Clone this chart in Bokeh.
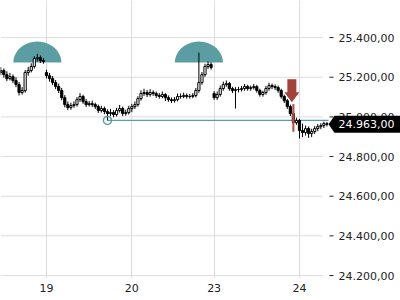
import numpy as np
from bokeh.plotting import figure
from bokeh.models import (Range1d, FixedTicker, LinearAxis, CustomJSTickFormatter,
                          ColumnDataSource)
from bokeh.core.properties import value
from bokeh.embed import file_html
from bokeh.resources import INLINE

# ---------------- data ----------------
opens = [25224, 25234, 25213, 25193, 25203, 25183, 25163, 25123, 25133, 25224,
         25234, 25254, 25294, 25299, 25284,
         25224, 25208, 25193, 25173, 25153, 25133, 25097, 25062, 25047, 25057,
         25062, 25087, 25103, 25077, 25062, 25067, 25062, 25052, 25032, 25042,
         25027, 25017, 25022, 25012, 25032, 25042, 25017, 25022,
         25042, 25052, 25062, 25092, 25118, 25123, 25113, 25123, 25118, 25108,
         25103, 25113, 25097, 25087, 25082, 25087, 25103, 25103, 25108, 25103,
         25103, 25108, 25133, 25173, 25213, 25254, 25264,
         25118, 25097, 25113, 25143, 25163, 25168, 25143, 25133, 25138, 25138,
         25143, 25153, 25143, 25148, 25153, 25133, 25113, 25123, 25143, 25158,
         25153, 25148, 25133, 25103, 25082, 25052, 25017, 24971,
         24982, 24931, 24921, 24941, 24916, 24926, 24941, 24951, 24956, 24966]
highs = [25252, 25244, 25230, 25222, 25214, 25200, 25176, 25150, 25236, 25252,
         25270, 25306, 25318, 25310, 25296,
         25238, 25222, 25206, 25186, 25168, 25146, 25110, 25078, 25072, 25078,
         25100, 25120, 25112, 25090, 25080, 25082, 25072, 25062, 25056, 25052,
         25038, 25040, 25034, 25046, 25060, 25052, 25036, 25056,
         25066, 25078, 25104, 25134, 25142, 25136, 25140, 25134, 25128, 25120,
         25128, 25120, 25108, 25098, 25100, 25118, 25118, 25122, 25118, 25116,
         25120, 25146, 25324, 25226, 25268, 25280, 25276,
         25130, 25128, 25158, 25178, 25184, 25176, 25152, 25150, 25152, 25156,
         25166, 25162, 25158, 25166, 25162, 25142, 25132, 25156, 25172, 25168,
         25164, 25158, 25142, 25112, 25090, 25062, 25064, 24996,
         24990, 24966, 24956, 24952, 24940, 24954, 24964, 24968, 24976, 24974]
lows = [25210, 25198, 25180, 25184, 25170, 25150, 25108, 25112, 25122, 25208,
        25224, 25244, 25280, 25272, 25268,
        25194, 25178, 25160, 25140, 25120, 25084, 25048, 25034, 25036, 25046,
        25052, 25076, 25066, 25050, 25052, 25050, 25040, 25020, 25022, 25014,
        24982, 25004, 24998, 25002, 25022, 25004, 25006, 25012,
        25024, 25040, 25052, 25082, 25106, 25100, 25102, 25106, 25096, 25092,
        25094, 25080, 25076, 25070, 25072, 25078, 25092, 25094, 25092, 25092,
        25094, 25098, 25122, 25162, 25202, 25242, 25238,
        25086, 25086, 25102, 25132, 25152, 25132, 25120, 25042, 25124, 25128,
        25132, 25132, 25132, 25138, 25122, 25102, 25102, 25112, 25132, 25140,
        25136, 25122, 25092, 25070, 25040, 25004, 24926, 24960,
        24891, 24898, 24906, 24894, 24898, 24914, 24928, 24938, 24944, 24952]
closes = [25234, 25213, 25193, 25203, 25183, 25163, 25123, 25133, 25224, 25234,
          25254, 25294, 25299, 25284, 25279,
          25208, 25193, 25173, 25153, 25133, 25097, 25062, 25047, 25057, 25062,
          25087, 25103, 25077, 25062, 25067, 25062, 25052, 25032, 25042, 25027,
          25017, 25022, 25012, 25032, 25042, 25017, 25022, 25042,
          25052, 25062, 25092, 25118, 25123, 25113, 25123, 25118, 25108, 25103,
          25113, 25097, 25087, 25082, 25087, 25103, 25103, 25108, 25103, 25103,
          25108, 25133, 25173, 25213, 25254, 25264, 25249,
          25097, 25113, 25143, 25163, 25168, 25143, 25133, 25138, 25138, 25143,
          25153, 25143, 25148, 25153, 25133, 25113, 25123, 25143, 25158, 25153,
          25148, 25133, 25103, 25082, 25052, 25017, 24971, 24982,
          24931, 24921, 24941, 24916, 24926, 24941, 24951, 24956, 24966, 24963]

day_labels = ["19", "20", "23", "24"]
day_start_idx = [15, 43, 70, 98]
price_ticks = [24200, 24400, 24600, 24800, 25000, 25200, 25400]
last_price = 24963
last_price_text = "24.963,00"
top_markers = [12, 65]      # candles marked with semicircles
top_marker_base = 25274
support_idx = 35            # candle whose low starts the support line
signal_idx = 96             # candle marked with arrow / red highlight

TEAL = "#5a9ea3"
RED = "#a3423b"
FONT = "DejaVu Sans"

idx = np.arange(len(closes))
o = np.array(opens); h = np.array(highs); l = np.array(lows); c = np.array(closes)
up = c >= o

# geometry: candle area is 328 px wide, price scale column to its right
PX_PER_IDX = 3.048
CHART_W, FRAME_W, FRAME_H = 328, 400, 278
x0 = -0.09
x_edge = x0 + CHART_W / PX_PER_IDX
x1 = x0 + FRAME_W / PX_PER_IDX
y0, y1 = 24185, 25587
px_per_price = FRAME_H / (y1 - y0)
def dx(px): return px / PX_PER_IDX
def dy(px): return px / px_per_price

p = figure(width=400, height=300, output_backend="svg", toolbar_location=None,
           x_range=Range1d(x0, x1), y_range=Range1d(y0, y1),
           y_axis_location=None, x_axis_location=None,
           min_border_left=0, min_border_top=0, min_border_right=0,
           min_border_bottom=300 - FRAME_H, outline_line_color=None,
           background_fill_color="white", border_fill_color="white")

# price axis: labels drawn back inside the right-hand price column
yax = LinearAxis(ticker=FixedTicker(ticks=price_ticks),
                 formatter=CustomJSTickFormatter(code="""
                   const s = Math.round(tick).toString();
                   return s.slice(0, -3) + '.' + s.slice(-3) + ',00';"""))
yax.axis_line_color = None
yax.major_tick_in = 0
yax.major_tick_out = 0
yax.minor_tick_line_color = None
yax.major_label_standoff = -62
yax.major_label_text_font = FONT
yax.major_label_text_font_size = "11px"
yax.major_label_text_color = "#222222"
p.add_layout(yax, "right")

xax = LinearAxis(ticker=FixedTicker(ticks=day_start_idx),
                 major_label_overrides={k: v for k, v in zip(day_start_idx, day_labels)})
xax.axis_line_color = None
xax.major_tick_in = 0
xax.major_tick_out = 0
xax.minor_tick_line_color = None
xax.major_label_standoff = 5
xax.major_label_text_font = FONT
xax.major_label_text_font_size = "11px"
xax.major_label_text_color = "#222222"
p.add_layout(xax, "below")

p.xgrid.ticker = FixedTicker(ticks=day_start_idx)
p.xgrid.grid_line_color = "#dcdcdc"
p.ygrid.grid_line_color = None
# horizontal grid lines limited to the candle area, plus price tick dashes
p.segment(x0=[x0] * len(price_ticks), y0=price_ticks, x1=[x_edge - dx(6)] * len(price_ticks),
          y1=price_ticks, line_color="#dcdcdc", line_width=1, level="underlay")
p.segment(x0=[x_edge + dx(1)] * len(price_ticks), y0=price_ticks,
          x1=[x_edge + dx(5)] * len(price_ticks), y1=price_ticks,
          line_color="#222222", line_width=1)

# semicircle markers above the tops
rx, ry = dx(24), dy(21)
t = np.linspace(0, np.pi, 60)
for m in top_markers:
    p.patch(m + rx * np.cos(t), top_marker_base + ry * np.sin(t),
            fill_color=TEAL, line_color=None)

# support line from the low
sup = lows[support_idx]
p.segment(x0=[support_idx], y0=[sup], x1=[x_edge], y1=[sup], line_color=TEAL, line_width=1.2)

# candles
src = ColumnDataSource(dict(x=idx, o=o, h=h, l=l, c=c,
                            top=np.maximum(o, c), bot=np.minimum(o, c),
                            fill=np.where(up, "white", "black")))
p.segment("x", "h", "x", "l", source=src, line_color="black", line_width=1)
p.vbar(x="x", top="top", bottom="bot", width=0.72, source=src,
       fill_color="fill", line_color="black", line_width=1)

# red highlight on signal candle
p.vbar(x=[signal_idx], top=[highs[signal_idx]], bottom=[lows[signal_idx]], width=0.8,
       fill_color="#d05a52", fill_alpha=0.85, line_color=None)

# support circle
p.scatter(x=[support_idx], y=[sup], size=8, marker="circle", fill_color=None,
          line_color=TEAL, line_width=1.5)

# red down arrow above signal candle
ax = signal_idx - 0.5
a_tip = highs[signal_idx] + dy(2)
head_base = a_tip + dy(10)
shaft_top = head_base + dy(13)
sw, hw = dx(4.5), dx(7.5)
p.patch([ax - sw, ax + sw, ax + sw, ax + hw, ax, ax - hw, ax - sw],
        [shaft_top, shaft_top, head_base, head_base, a_tip, head_base, head_base],
        fill_color=RED, line_color=None)

# last price tag
half = dy(8.5)
tag = p.patch([x_edge, x_edge + dx(6), x1 + 1, x1 + 1, x_edge + dx(6)],
              [last_price, last_price + half, last_price + half,
               last_price - half, last_price - half],
              fill_color="black", line_color=None)
tag.level = "overlay"
tag_txt = p.text(x=[x_edge + dx(10)], y=[last_price], text=[last_price_text],
                 text_color="white", text_font=value(FONT), text_font_size="11px",
                 text_baseline="middle", text_align="left")
tag_txt.level = "overlay"

open("out.html", "w").write(file_html(p, INLINE))
